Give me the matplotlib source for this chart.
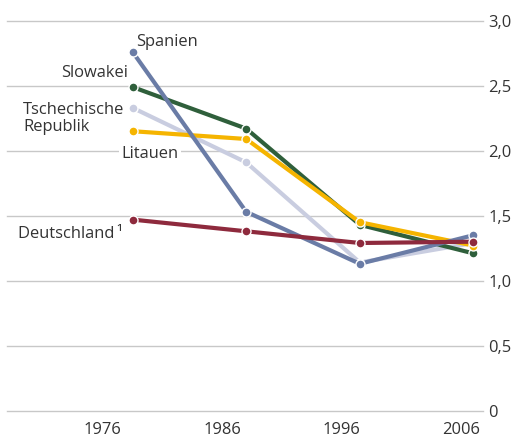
import numpy as np
import matplotlib
matplotlib.use("Agg")
from matplotlib import pyplot as plt

plt.rcParams['font.family'] = ['Open Sans', 'DejaVu Sans']

# x positions of the points
x_points = [1978.5, 1988.0, 1997.5, 2007.0]
year_ticks = [1976, 1986, 1996, 2006]

tschechien = [2.33, 1.91, 1.14, 1.29]
slowakei = [2.49, 2.17, 1.43, 1.21]
litauen = [2.15, 2.09, 1.45, 1.27]
spanien = [2.76, 1.53, 1.13, 1.35]
deutschland = [1.47, 1.38, 1.29, 1.30]

y_ticks = [0, 0.5, 1.0, 1.5, 2.0, 2.5, 3.0]
y_labels = ["0", "0,5", "1,0", "1,5", "2,0", "2,5", "3,0"]

text_col = "#333333"
fs = 11.9

fig = plt.figure(figsize=(5.14, 4.40), dpi=100)
ax = fig.add_axes([7/514, 29.3/440, 476/514, 390/440])

series = [
    # name, values, colour, label offset (px), ha
    ("Tschechische\nRepublik", tschechien, "#c9cde0", (-8, -11), "right"),
    ("Slowakei", slowakei, "#2f5f3b", (-5, 14), "right"),
    ("Litauen", litauen, "#f5b400", (-11, -23), "left"),
    ("Spanien", spanien, "#6a7ca6", (4, 10), "left"),
    ("Deutschland\u2009¹", deutschland, "#8e2a3d", (-10, -14), "right"),
]

for i, (name, vals, col, off, ha) in enumerate(series):
    ax.plot(x_points, vals, color=col, lw=3.0, solid_capstyle='round',
            solid_joinstyle='round', marker='o', ms=6.5, mfc=col,
            mec='white', mew=1.0, clip_on=False, zorder=3 + i)
    t = ax.annotate(name, (x_points[0], vals[0]), xytext=off,
                    textcoords='offset pixels', ha=ha, va='center',
                    fontsize=fs, color=text_col, multialignment='left',
                    linespacing=1.05, zorder=10)
    if name == "Litauen":
        t.set_bbox(dict(facecolor='white', edgecolor='none', pad=1.5))

ax.set_xlim(1968.0, 2007.8)
ax.set_ylim(0, 3.0)

ax.set_yticks(y_ticks)
ax.set_yticklabels(y_labels)
ax.yaxis.tick_right()
ax.set_xticks(year_ticks)
ax.set_xticklabels([str(y) for y in year_ticks])
ax.tick_params(axis='both', length=0, labelsize=fs, labelcolor=text_col)
ax.tick_params(axis='y', pad=4)
ax.tick_params(axis='x', pad=8)

ax.grid(axis='y', color='#c8c8c8', lw=1.0)
for gl in ax.get_ygridlines():
    gl.set_clip_on(False)
ax.set_axisbelow(True)
for s in ax.spines.values():
    s.set_visible(False)

fig.savefig("out.png", dpi=100)
